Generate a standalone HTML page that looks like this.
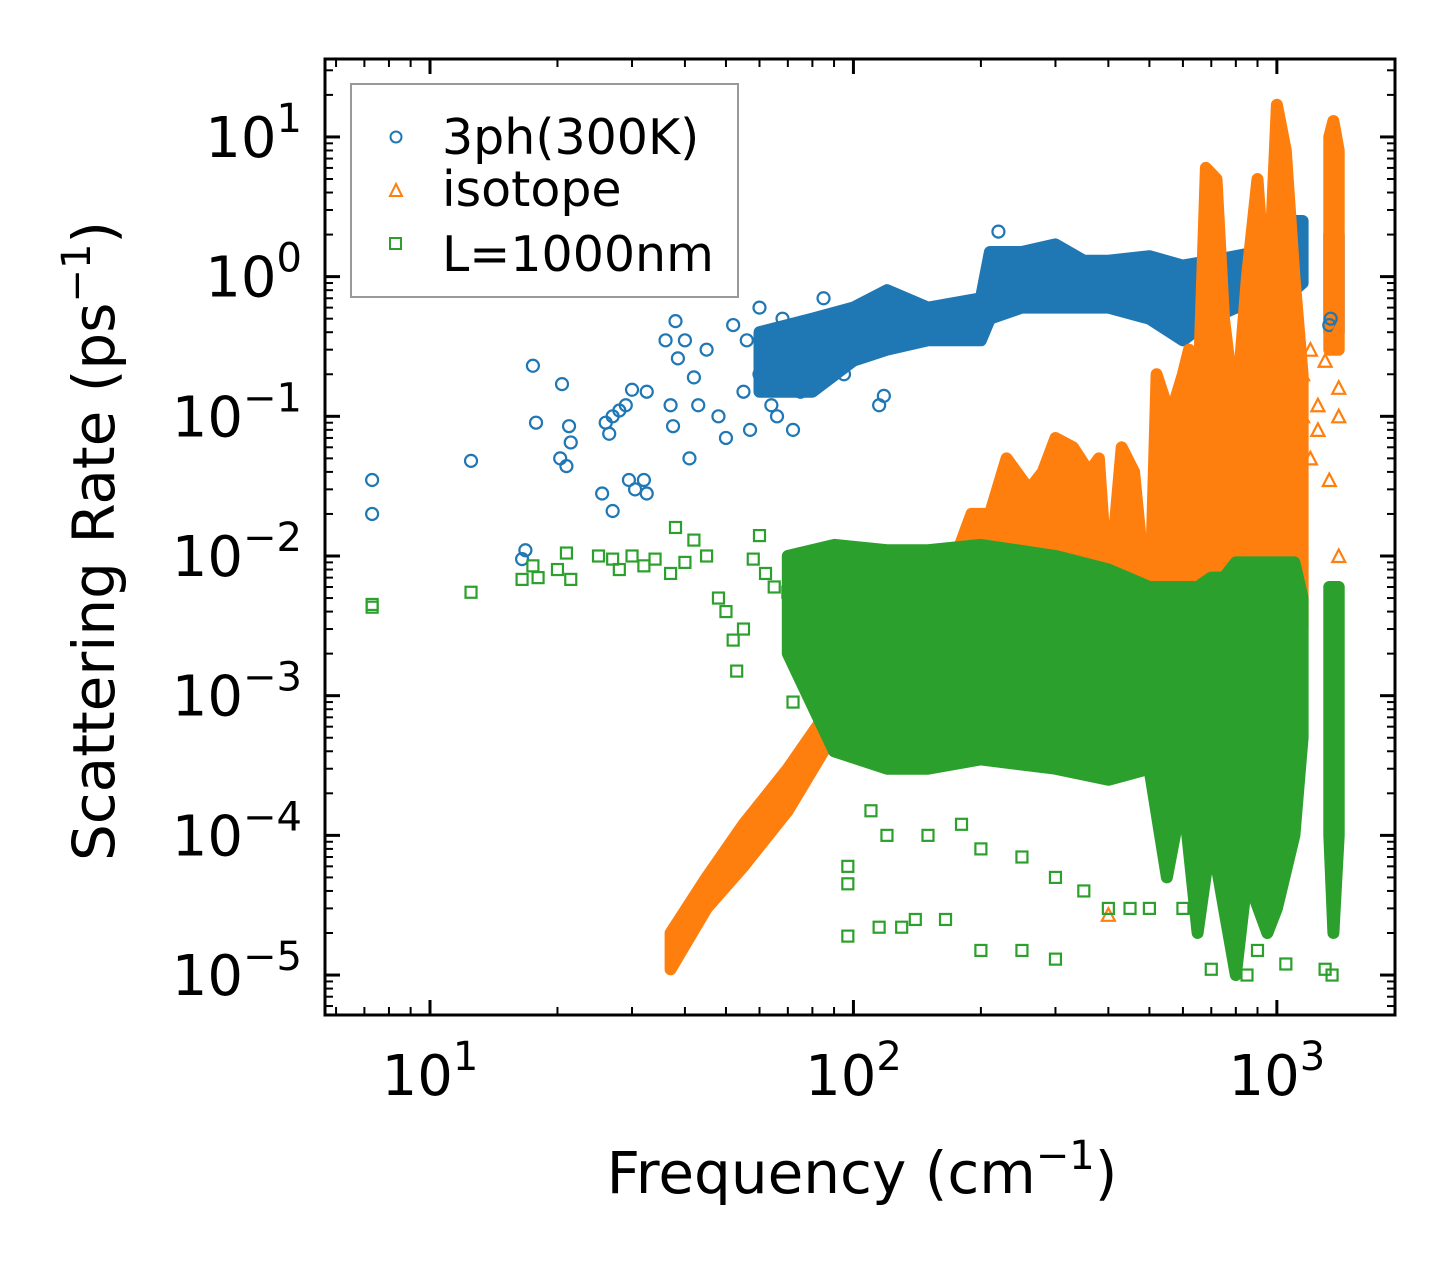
<!DOCTYPE html>
<html><head><meta charset="utf-8"><style>
html,body{margin:0;padding:0;background:#fff}
svg{display:block;font-family:"DejaVu Sans","Liberation Sans",sans-serif}
</style></head><body>
<svg id="chart" width="1455" height="1265" viewBox="0 0 1455 1265" xmlns="http://www.w3.org/2000/svg">
<g id="bands"></g>
<g id="marks"></g>
<g id="axes"></g>
<g id="legend">
<rect x="351" y="84" width="387" height="213" fill="#fff" fill-opacity="0.85" stroke="#999" stroke-width="2"/>
<circle cx="396" cy="137" r="5.5" fill="none" stroke="#1f77b4" stroke-width="2"/>
<text x="442" y="154" font-size="49">3ph(300K)</text>
<path d="M396,184 L402,196 L390,196 Z" fill="none" stroke="#ff7f0e" stroke-width="2"/>
<text x="442" y="206" font-size="49">isotope</text>
<rect x="390" y="238" width="11" height="11" fill="none" stroke="#2ca02c" stroke-width="2"/>
<text x="442" y="271" font-size="49">L=1000nm</text>
</g>
<text x="862" y="1193" font-size="58" text-anchor="middle">Frequency (cm<tspan font-size="40" dy="-24">−1</tspan><tspan dy="24">)</tspan></text>
<text transform="translate(114,541) rotate(-90)" font-size="58" text-anchor="middle">Scattering Rate (ps<tspan font-size="40" dy="-24">−1</tspan><tspan dy="24">)</tspan></text>
</svg>
<script>
// axis configuration
const xTickExps = [1, 2, 3];
const yTickExps = [1, 0, -1, -2, -3, -4, -5];
// scattered points [frequency, rate]
const blueFreq = [7.3,7.3,12.5,16.5,16.8,17.5,17.8,20.5,20.3,21,21.3,21.5,25.5,26,26.5,27,27,28,29,29.5,30,30.5,32,32.5,32.5,36,37,37.5,38,38.5,40,41,42,43,45,48,50,52,55,56,57,60,60,62,64,66,68,70,72,75,78,80,85,90,95,115,118,220,1330,1340];
const blueRate = [0.035,0.02,0.048,0.0095,0.011,0.23,0.09,0.17,0.05,0.044,0.085,0.065,0.028,0.09,0.075,0.1,0.021,0.11,0.12,0.035,0.155,0.03,0.035,0.028,0.15,0.35,0.12,0.085,0.48,0.26,0.35,0.05,0.19,0.12,0.3,0.1,0.07,0.45,0.15,0.35,0.08,0.6,0.2,0.3,0.12,0.1,0.5,0.25,0.08,0.15,0.35,0.2,0.7,0.3,0.2,0.12,0.14,2.1,0.45,0.5];
const orangeFreq = [400,1150,1200,1330,1400,1400,1400,850,1000,1250,1300,1200,1150,1100,1250,1380];
const orangeRate = [0.000027,0.1,0.05,0.035,0.16,0.1,0.01,0.03,0.3,0.08,0.25,0.3,0.2,0.15,0.12,0.4];
const greenFreq = [7.3,7.3,12.5,16.5,17.5,18,20,21,21.5,25,27,28,30,32,34,37,38,40,42,45,48,50,52,53,55,58,60,62,65,70,72,75,80,85,90,97,97,97,115,130,140,165,200,250,300,700,850,1350,1300,110,120,150,200,300,400,500,600,180,250,350,450,900,1050];
const greenRate = [0.0045,0.0043,0.0055,0.0068,0.0085,0.007,0.008,0.0105,0.0068,0.01,0.0095,0.008,0.01,0.0085,0.0095,0.0075,0.016,0.009,0.013,0.01,0.005,0.004,0.0025,0.0015,0.003,0.0095,0.014,0.0075,0.006,0.0055,0.0009,0.003,0.004,0.0009,0.006,0.00006,0.000045,0.000019,0.000022,0.000022,0.000025,0.000025,0.000015,0.000015,0.000013,0.000011,0.00001,0.00001,0.000011,0.00015,0.0001,0.0001,0.00008,0.00005,0.00003,0.00003,0.00003,0.00012,0.00007,0.00004,0.00003,0.000015,0.000012];
// dense bands: frequency, lower bound, upper bound
const blueBandFreq = [60,80,100,120,150,200,210,250,300,350,400,500,600,700,800,1000,1100,1150];
const blueBandLo = [0.15,0.15,0.25,0.3,0.35,0.35,0.5,0.6,0.6,0.6,0.6,0.5,0.35,0.5,0.6,0.6,0.8,0.9];
const blueBandHi = [0.4,0.5,0.6,0.8,0.6,0.7,1.5,1.5,1.7,1.3,1.3,1.4,1.2,1.3,1.4,1.6,2.5,2.5];
const blueBand2Freq = [1330,1400];
const blueBand2Lo = [0.4,0.4];
const blueBand2Hi = [2,2];
const orRampFreq = [37,45,55,70,85,100,130,170];
const orRampLo = [1.1e-5,3e-5,6e-5,1.5e-4,4e-4,8e-4,1.2e-3,1.5e-3];
const orRampHi = [2e-5,5e-5,1.2e-4,3e-4,7e-4,1.5e-3,2.5e-3,4e-3];
const orBandFreq = [170,190,210,230,260,280,300,330,360,380,400,430,460,500,520,560,600,620,650,680,720,750,800,850,900,950,1000,1050,1100,1150];
const orBandLo = [0.002,0.002,0.002,0.002,0.003,0.003,0.003,0.003,0.002,0.002,0.002,0.002,0.002,0.002,0.002,0.002,0.003,0.003,0.003,0.003,0.003,0.003,0.004,0.005,0.005,0.004,0.003,0.003,0.003,0.003];
const orBandHi = [0.008,0.02,0.02,0.05,0.03,0.04,0.07,0.06,0.04,0.05,0.005,0.06,0.04,0.003,0.2,0.1,0.2,0.3,0.1,6,5,0.5,0.1,1,5,0.5,17,8,1,0.2];
const orBand2Freq = [1330,1360,1400];
const orBand2Lo = [0.3,0.3,0.3];
const orBand2Hi = [10,13,8];
const grBandFreq = [70,90,120,150,200,300,400,500,550,600,650,700,750,800,850,950,1000,1100,1150];
const grBandLo = [0.002,0.0004,0.0003,0.0003,0.00035,0.0003,0.00025,0.0003,0.00005,0.0002,0.00002,0.0001,0.00003,0.00001,0.00005,0.00002,0.00003,0.0001,0.0005];
const grBandHi = [0.01,0.012,0.011,0.011,0.012,0.01,0.008,0.006,0.006,0.006,0.006,0.007,0.007,0.009,0.009,0.009,0.009,0.009,0.005];
const grBand2Freq = [1330,1360,1400];
const grBand2Lo = [0.0001,0.00002,0.0001];
const grBand2Hi = [0.006,0.006,0.006];

const NS = 'http://www.w3.org/2000/svg';
const L = 325, R = 1395, T = 59, B = 1015;
const xMin = Math.log10(5.65), xMax = Math.log10(1901);
const yMin = -5.286, yMax = 1.558;
function X(f){ return L + (Math.log10(f) - xMin) / (xMax - xMin) * (R - L); }
function Y(v){ return B - (Math.log10(v) - yMin) / (yMax - yMin) * (B - T); }
function mk(tag, attrs, parent){ const e = document.createElementNS(NS, tag); for (const k in attrs) e.setAttribute(k, attrs[k]); parent.appendChild(e); return e; }

const bands = document.getElementById('bands');
const marks = document.getElementById('marks');
const axes = document.getElementById('axes');
function band(fr, lo, hi, color, name){
  let d = '';
  fr.forEach((f, i) => { d += (i ? 'L' : 'M') + X(f).toFixed(1) + ',' + Y(hi[i]).toFixed(1); });
  for (let i = fr.length - 1; i >= 0; i--) d += 'L' + X(fr[i]).toFixed(1) + ',' + Y(lo[i]).toFixed(1);
  const p = mk('path', {d: d + 'Z', fill: color, stroke: color, 'stroke-width': 12, 'stroke-linejoin': 'round'}, bands);
  
  
}
function pts(fr, rt, kind, color, name){
  const g = mk('g', {fill: 'none', stroke: color, 'stroke-width': 2.2}, marks);
  
  
  fr.forEach((f, i) => {
    const x = X(f), y = Y(rt[i]);
    let e;
    if (kind === 'c') e = mk('circle', {cx: x, cy: y, r: 6}, g);
    else if (kind === 't') e = mk('path', {d: `M${x},${y-6.5}L${x+6.5},${y+6}L${x-6.5},${y+6}Z`}, g);
    else e = mk('rect', {x: x - 5.5, y: y - 5.5, width: 11, height: 11}, g);
    
    
  });
}
band(blueBandFreq, blueBandLo, blueBandHi, '#1f77b4', 'band-3ph');
band(blueBand2Freq, blueBand2Lo, blueBand2Hi, '#1f77b4', 'band-3ph-high');
pts(blueFreq, blueRate, 'c', '#1f77b4', 'series-3ph');
band(orRampFreq, orRampLo, orRampHi, '#ff7f0e', 'band-isotope-ramp');
band(orBandFreq, orBandLo, orBandHi, '#ff7f0e', 'band-isotope');
band(orBand2Freq, orBand2Lo, orBand2Hi, '#ff7f0e', 'band-isotope-high');
pts(orangeFreq, orangeRate, 't', '#ff7f0e', 'series-isotope');
band(grBandFreq, grBandLo, grBandHi, '#2ca02c', 'band-boundary');
band(grBand2Freq, grBand2Lo, grBand2Hi, '#2ca02c', 'band-boundary-high');
pts(greenFreq, greenRate, 's', '#2ca02c', 'series-boundary');

// frame and ticks
const fr = mk('rect', {x: L, y: T, width: R - L, height: B - T, fill: 'none', stroke: '#000', 'stroke-width': 3}, axes);


function tick(x1, y1, x2, y2, w){ const t = mk('line', {x1, y1, x2, y2, stroke: '#000', 'stroke-width': w}, axes);   }
for (let e = 0; e <= 3; e++) for (let m = 1; m <= 9; m++) {
  const f = m * Math.pow(10, e); const x = X(f);
  if (x < L || x > R) continue;
  const len = m === 1 ? 15 : 8, w = m === 1 ? 3 : 2;
  tick(x, B, x, B - len, w); tick(x, T, x, T + len, w);
}
for (let e = -6; e <= 1; e++) for (let m = 1; m <= 9; m++) {
  const v = m * Math.pow(10, e); const y = Y(v);
  if (y < T || y > B) continue;
  const len = m === 1 ? 15 : 8, w = m === 1 ? 3 : 2;
  tick(L, y, L + len, y, w); tick(R, y, R - len, y, w);
}
xTickExps.forEach(e => {
  const t = mk('text', {x: X(Math.pow(10, e)), y: 1095, 'font-size': 56, 'text-anchor': 'middle'}, axes);
  
  
  t.innerHTML = '10<tspan font-size="40" dy="-25">' + e + '</tspan>';
});
yTickExps.forEach(e => {
  const t = mk('text', {x: 302, y: Y(Math.pow(10, e)) + 20, 'font-size': 56, 'text-anchor': 'end'}, axes);
  
  
  t.innerHTML = '10<tspan font-size="40" dy="-25">' + (e < 0 ? '−' + (-e) : e) + '</tspan>';
});
</script>
</body></html>
